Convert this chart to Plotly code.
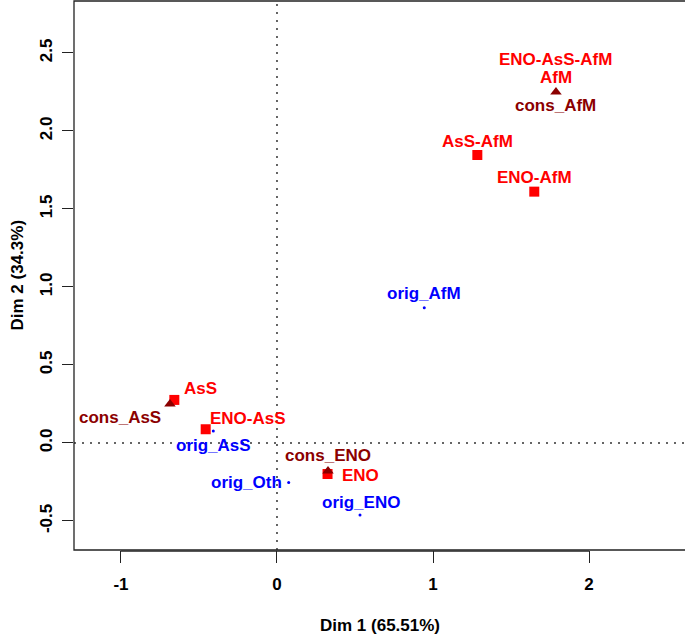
import plotly.graph_objects as go

# ---- data ----
group_names = ["AsS", "ENO-AsS", "ENO", "AsS-AfM", "ENO-AfM", "AfM", "ENO-AsS-AfM"]
group_x = [-0.658, -0.457, 0.324, 1.284, 1.649, 1.788, 1.788]
group_y = [0.276, 0.088, -0.199, 1.846, 1.611, 2.250, 2.250]

cons_names = ["cons_AsS", "cons_ENO", "cons_AfM"]
cons_x = [-0.686, 0.327, 1.788]
cons_y = [0.250, -0.179, 2.250]

orig_names = ["orig_AsS", "orig_Oth", "orig_ENO", "orig_AfM"]
orig_x = [-0.408, 0.075, 0.532, 0.944]
orig_y = [0.077, -0.254, -0.462, 0.867]

x_ticks = [-1, 0, 1, 2]
y_ticks = [-0.5, 0.0, 0.5, 1.0, 1.5, 2.0, 2.5]
y_tick_labels = ["-0.5", "0.0", "0.5", "1.0", "1.5", "2.0", "2.5"]
x_title = "Dim 1 (65.51%)"
y_title = "Dim 2 (34.3%)"

# ---- style ----
RED = "#FF0000"
DARKRED = "#8B0000"
BLUE = "#0000FF"
FONT = "Liberation Sans"
FS = 17

# label offsets in pixels (dx, dy up)
label_offsets = {
    "AsS": (26, 11), "ENO-AsS": (42, 11), "ENO": (33, -1), "AsS-AfM": (0, 13),
    "ENO-AfM": (0, 14), "AfM": (0, 14), "ENO-AsS-AfM": (0, 32),
    "cons_AsS": (-50, -14), "cons_ENO": (0, 15), "cons_AfM": (0, -14),
    "orig_AsS": (0, -15), "orig_Oth": (-42, 0), "orig_ENO": (1, 13), "orig_AfM": (0, 14),
}

fig = go.Figure()

fig.add_trace(go.Scatter(
    x=group_x, y=group_y, mode="markers",
    marker=dict(symbol="square", size=10, color=RED,
                opacity=[1, 1, 1, 1, 1, 0, 0], line=dict(width=0)),
    hoverinfo="text", text=group_names, showlegend=False))
fig.add_trace(go.Scatter(
    x=cons_x, y=cons_y, mode="markers",
    marker=dict(symbol="triangle-up", size=10, color=DARKRED, line=dict(width=0)),
    hoverinfo="text", text=cons_names, showlegend=False))
fig.add_trace(go.Scatter(
    x=orig_x, y=orig_y, mode="markers",
    marker=dict(symbol="circle", size=3, color=BLUE, line=dict(width=0)),
    hoverinfo="text", text=orig_names, showlegend=False))

annotations = []
for names, xs, ys, col in [(group_names, group_x, group_y, RED),
                           (cons_names, cons_x, cons_y, DARKRED),
                           (orig_names, orig_x, orig_y, BLUE)]:
    for n, x, y in zip(names, xs, ys):
        dx, dy = label_offsets[n]
        annotations.append(dict(
            x=x, y=y, xref="x", yref="y", text=n, showarrow=False,
            xshift=dx, yshift=dy, xanchor="center", yanchor="middle",
            font=dict(family=FONT, size=FS, color=col, weight="bold")))

title_font = dict(family=FONT, size=FS, color="black", weight="bold")
annotations.append(dict(x=0.5, y=0, xref="paper", yref="paper", text=x_title,
                        showarrow=False, xanchor="center", yanchor="middle",
                        yshift=-75, font=title_font))
annotations.append(dict(x=0, y=0.5, xref="paper", yref="paper", text=y_title,
                        showarrow=False, xanchor="center", yanchor="middle",
                        xshift=-57, textangle=-90, font=title_font))

shapes = [
    dict(type="line", xref="x", yref="paper", x0=0, x1=0, y0=0, y1=1,
         line=dict(color="#333333", width=1.5, dash="2px,6px")),
    dict(type="line", xref="paper", yref="y", x0=0, x1=1.05, y0=0, y1=0,
         line=dict(color="#333333", width=1.5, dash="2px,6px")),
    dict(type="rect", xref="paper", yref="paper", x0=0, x1=1.05, y0=0, y1=1,
         line=dict(color="#222222", width=1.3)),
    dict(type="line", xref="x", yref="paper", x0=-1, x1=2, y0=-0.002, y1=-0.002,
         line=dict(color="#222222", width=1.3)),
]

fig.update_layout(
    width=685, height=636,
    margin=dict(l=74, r=0, t=1, b=86),
    paper_bgcolor="white", plot_bgcolor="white",
    annotations=annotations, shapes=shapes,
    font=dict(family=FONT, size=FS, color="black"),
)
fig.update_xaxes(
    range=[-1.301, 2.615], tickvals=x_ticks, ticktext=[str(v) for v in x_ticks],
    ticks="outside", ticklen=12, tickwidth=1.2, tickcolor="#222222",
    showgrid=False, zeroline=False, showline=False, automargin=False,
    tickfont=dict(family=FONT, size=FS, color="black", weight="bold"),
    ticklabelstandoff=7,
)
fig.update_yaxes(
    range=[-0.686, 2.833], tickvals=y_ticks, ticktext=y_tick_labels,
    ticks="outside", ticklen=11, tickwidth=1.2, tickcolor="#222222",
    showgrid=False, zeroline=False, showline=False, tickangle=-90, automargin=False,
    tickfont=dict(family=FONT, size=FS, color="black", weight="bold"),
    ticklabelstandoff=3,
)

fig.write_html("out.html", config={"displayModeBar": False},
               post_script="document.body.style.margin='0';document.body.style.overflow='hidden';")
